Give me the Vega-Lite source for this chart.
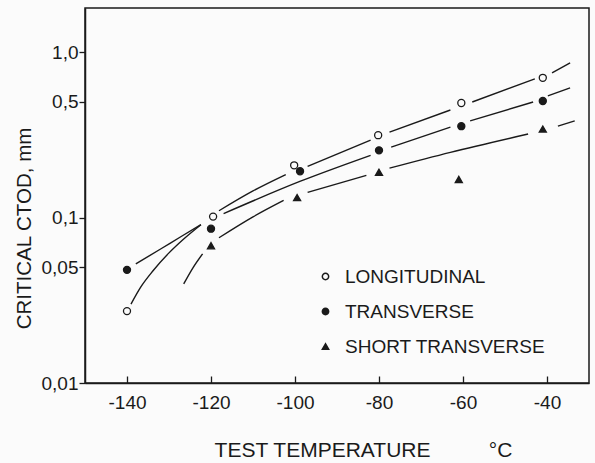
{
  "$schema": "https://vega.github.io/schema/vega-lite/v6.json",
  "width": 504,
  "height": 375,
  "autosize": "none",
  "padding": {"left": 85, "top": 8, "right": 6, "bottom": 80},
  "background": "#fbfbfb",
  "config": {
    "view": {"stroke": "#1a1a1a", "strokeWidth": 1.5},
    "font": "Liberation Sans, Arial, sans-serif",
    "axis": {
      "domainColor": "#1a1a1a", "domainWidth": 1.5, "tickColor": "#1a1a1a", "tickWidth": 1.3,
      "labelColor": "#1a1a1a", "titleColor": "#1a1a1a", "grid": false,
      "labelFont": "Liberation Sans, Arial, sans-serif",
      "titleFont": "Liberation Sans, Arial, sans-serif",
      "labelFontWeight": "normal", "titleFontWeight": "normal"
    },
    "legend": {
      "labelFont": "Liberation Sans, Arial, sans-serif"
    }
  },
  "datasets": {
    "points": [
      {"series": "LONGITUDINAL", "temp": -140, "ctod": 0.0272},
      {"series": "LONGITUDINAL", "temp": -119.5, "ctod": 0.1014},
      {"series": "LONGITUDINAL", "temp": -100.2, "ctod": 0.207},
      {"series": "LONGITUDINAL", "temp": -80.2, "ctod": 0.315},
      {"series": "LONGITUDINAL", "temp": -60.4, "ctod": 0.493},
      {"series": "LONGITUDINAL", "temp": -41, "ctod": 0.70},
      {"series": "TRANSVERSE", "temp": -140, "ctod": 0.0483},
      {"series": "TRANSVERSE", "temp": -120, "ctod": 0.0857},
      {"series": "TRANSVERSE", "temp": -98.8, "ctod": 0.1905},
      {"series": "TRANSVERSE", "temp": -80, "ctod": 0.255},
      {"series": "TRANSVERSE", "temp": -60.4, "ctod": 0.357},
      {"series": "TRANSVERSE", "temp": -41, "ctod": 0.507},
      {"series": "SHORT TRANSVERSE", "temp": -120, "ctod": 0.0676},
      {"series": "SHORT TRANSVERSE", "temp": -99.5, "ctod": 0.132},
      {"series": "SHORT TRANSVERSE", "temp": -80, "ctod": 0.188},
      {"series": "SHORT TRANSVERSE", "temp": -61, "ctod": 0.170},
      {"series": "SHORT TRANSVERSE", "temp": -41, "ctod": 0.343}
    ],
    "curves": [
      {"seg": "L1", "temp": -139.05, "ctod": 0.0300},
      {"seg": "L1", "temp": -136.7, "ctod": 0.0381},
      {"seg": "L1", "temp": -133.8, "ctod": 0.0477},
      {"seg": "L1", "temp": -130.0, "ctod": 0.0612},
      {"seg": "L1", "temp": -126.7, "ctod": 0.0735},
      {"seg": "L1", "temp": -122.4, "ctod": 0.0906},
      {"seg": "L2", "temp": -118.1, "ctod": 0.110},
      {"seg": "L2", "temp": -110.0, "ctod": 0.145},
      {"seg": "L2", "temp": -102.2, "ctod": 0.182},
      {"seg": "L3", "temp": -97.0, "ctod": 0.204},
      {"seg": "L3", "temp": -82.0, "ctod": 0.294},
      {"seg": "L4", "temp": -77.5, "ctod": 0.329},
      {"seg": "L4", "temp": -63.0, "ctod": 0.447},
      {"seg": "L5", "temp": -57.8, "ctod": 0.500},
      {"seg": "L5", "temp": -42.9, "ctod": 0.690},
      {"seg": "L6", "temp": -38.8, "ctod": 0.750},
      {"seg": "L6", "temp": -34.5, "ctod": 0.863},
      {"seg": "T1", "temp": -137.9, "ctod": 0.0525},
      {"seg": "T1", "temp": -131.9, "ctod": 0.0648},
      {"seg": "T1", "temp": -127.2, "ctod": 0.0766},
      {"seg": "T1", "temp": -122.4, "ctod": 0.0906},
      {"seg": "T2", "temp": -117.0, "ctod": 0.1057},
      {"seg": "T2", "temp": -98.7, "ctod": 0.166},
      {"seg": "T2", "temp": -82.0, "ctod": 0.238},
      {"seg": "T3", "temp": -77.1, "ctod": 0.267},
      {"seg": "T3", "temp": -63.0, "ctod": 0.352},
      {"seg": "T4", "temp": -58.3, "ctod": 0.384},
      {"seg": "T4", "temp": -43.3, "ctod": 0.500},
      {"seg": "T5", "temp": -39.8, "ctod": 0.544},
      {"seg": "T5", "temp": -34.5, "ctod": 0.608},
      {"seg": "S1", "temp": -126.5, "ctod": 0.0397},
      {"seg": "S1", "temp": -124.3, "ctod": 0.0497},
      {"seg": "S1", "temp": -122.0, "ctod": 0.0604},
      {"seg": "S2", "temp": -118.1, "ctod": 0.0755},
      {"seg": "S2", "temp": -110.0, "ctod": 0.101},
      {"seg": "S2", "temp": -102.7, "ctod": 0.127},
      {"seg": "S3", "temp": -97.0, "ctod": 0.142},
      {"seg": "S3", "temp": -83.0, "ctod": 0.180},
      {"seg": "S4", "temp": -77.5, "ctod": 0.199},
      {"seg": "S4", "temp": -63.0, "ctod": 0.248},
      {"seg": "S4", "temp": -44.5, "ctod": 0.320},
      {"seg": "S5", "temp": -37.4, "ctod": 0.357},
      {"seg": "S5", "temp": -33.4, "ctod": 0.384}
    ]
  },
  "encoding": {
    "x": {
      "field": "temp", "type": "quantitative",
      "scale": {"domain": [-150, -30], "nice": false, "zero": false},
      "axis": {
        "values": [-140, -120, -100, -80, -60, -40],
        "labelExpr": "'' + datum.value",
        "tickSize": -7, "labelPadding": 17, "labelFontSize": 19,
        "title": "TEST TEMPERATURE\u00a0\u00a0\u00a0\u00a0\u00a0\u00a0\u00a0\u00a0\u00a0\u00a0°C", "titleFontSize": 21,
        "titleX": 278, "titleY": 67, "titleAlign": "center", "titleBaseline": "middle",
        "titleAnchor": null
      }
    },
    "y": {
      "field": "ctod", "type": "quantitative",
      "scale": {"type": "log", "domain": [0.01, 1.85], "nice": false},
      "axis": {
        "values": [0.01, 0.05, 0.1, 0.5, 1],
        "labelExpr": "datum.value == 1 ? '1,0' : replace('' + datum.value, '.', ',')",
        "tickSize": 6, "labelPadding": 1, "labelFontSize": 19,
        "title": "CRITICAL CTOD, mm", "titleFontSize": 20.5,
        "titleAngle": -90, "titleX": -61, "titleY": 220,
        "titleAlign": "center", "titleBaseline": "middle"
      }
    }
  },
  "layer": [
    {
      "data": {"name": "curves"},
      "mark": {"type": "line", "interpolate": "monotone", "color": "#1a1a1a", "strokeWidth": 1.4},
      "encoding": {"detail": {"field": "seg"}}
    },
    {
      "data": {"name": "points"},
      "mark": {"type": "point", "opacity": 1, "stroke": "#1a1a1a", "strokeWidth": 1.3, "size": 50},
      "encoding": {
        "shape": {
          "field": "series", "type": "nominal",
          "scale": {"domain": ["LONGITUDINAL", "TRANSVERSE", "SHORT TRANSVERSE"], "range": ["circle", "circle", "triangle-up"]},
          "legend": {
            "title": null, "orient": "none", "legendX": 231, "legendY": 259,
            "labelFontSize": 19, "labelColor": "#1a1a1a", "symbolSize": 40, "labelLimit": 400,
            "rowPadding": 15, "labelOffset": 10, "padding": 0,
            "encode": {"symbols": {"update": {"stroke": {"value": "#1a1a1a"}, "strokeWidth": {"value": 1.3}}}}
          }
        },
        "fill": {
          "field": "series", "type": "nominal",
          "scale": {"domain": ["LONGITUDINAL", "TRANSVERSE", "SHORT TRANSVERSE"], "range": ["#fbfbfb", "#1a1a1a", "#1a1a1a"]},
          "legend": {
            "title": null, "orient": "none", "legendX": 231, "legendY": 259,
            "labelFontSize": 19, "labelColor": "#1a1a1a", "symbolSize": 40, "labelLimit": 400,
            "rowPadding": 15, "labelOffset": 10, "padding": 0,
            "encode": {"symbols": {"update": {"stroke": {"value": "#1a1a1a"}, "strokeWidth": {"value": 1.3}}}}
          }
        }
      }
    }
  ]
}
